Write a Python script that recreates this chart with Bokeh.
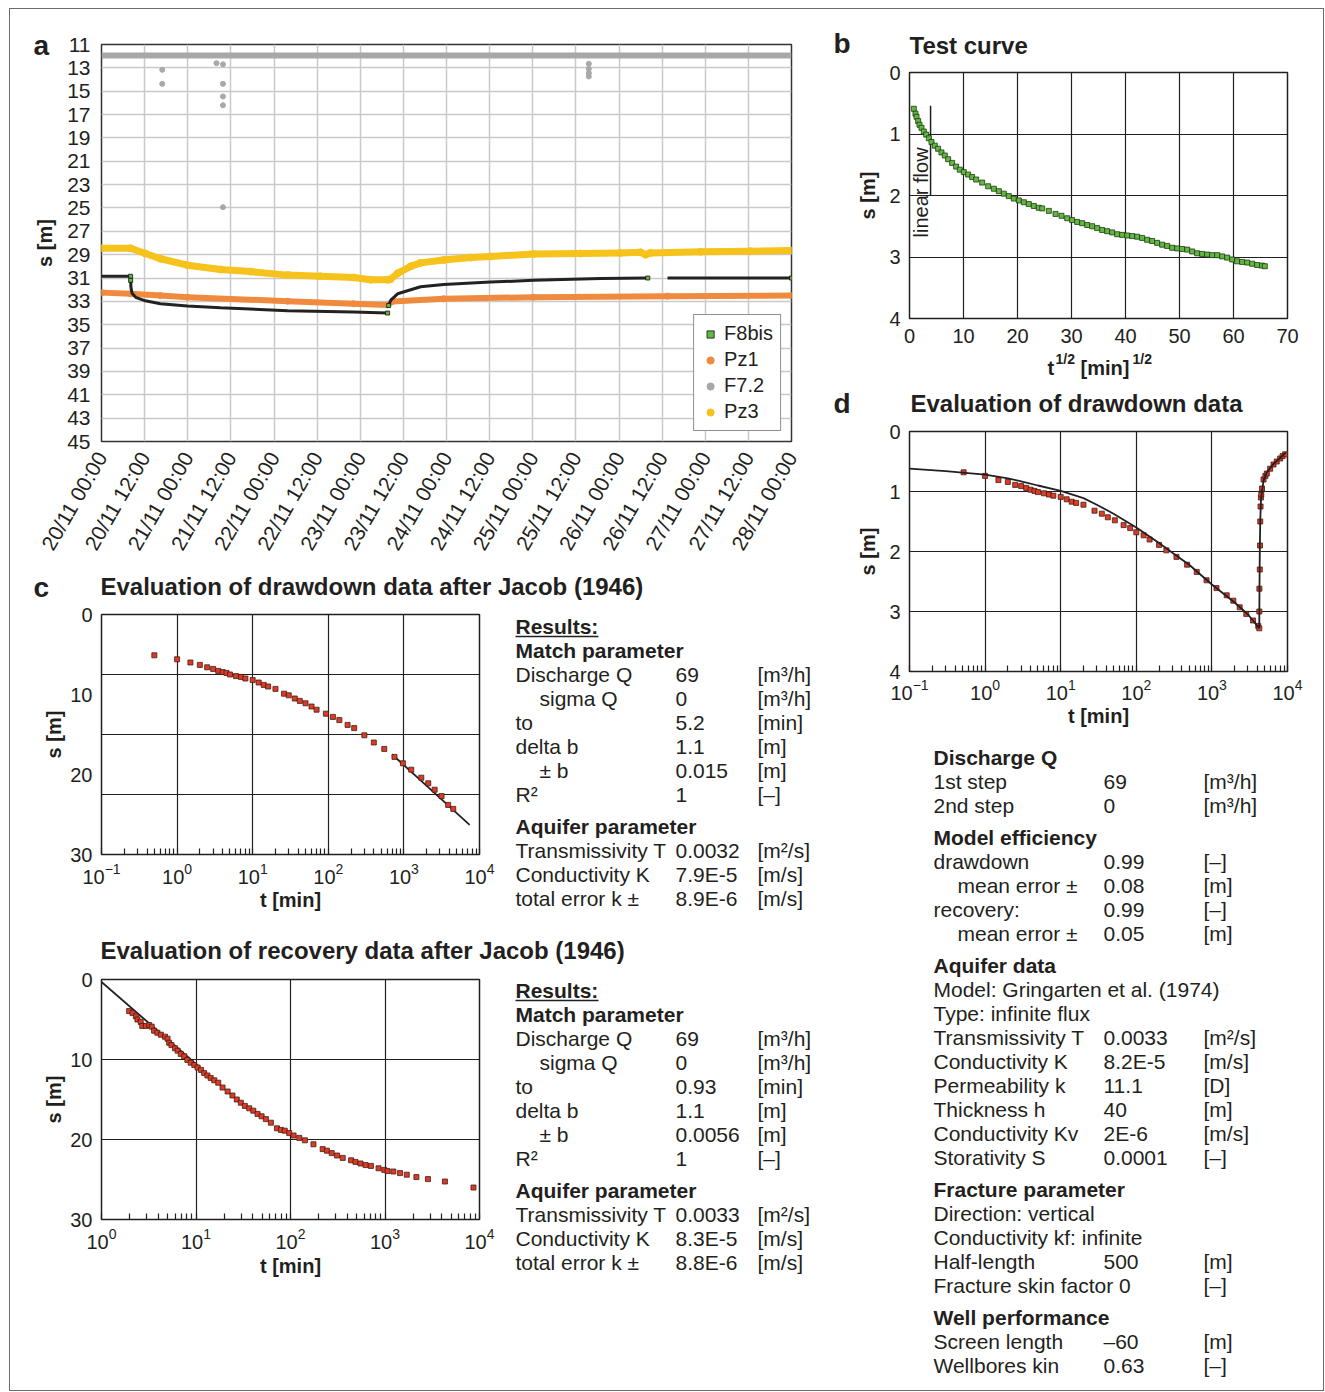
import math
from bokeh.plotting import figure
from bokeh.layouts import row, column
from bokeh.models import (Label, Legend, LegendItem, FixedTicker, Range1d, GridBox, Spacer,
                          ColumnDataSource)
from bokeh.embed import file_html
from bokeh.resources import INLINE
from bokeh.core.properties import value

FONT = "Liberation Sans"
INK = "#231f20"
NaN = float("nan")

# ======================= DATA =======================
# ---- panel a: time in hours since 20/11 00:00, s in m ----
time_tick_hours = [0, 12, 24, 36, 48, 60, 72, 84, 96, 108, 120, 132, 144, 156, 168, 180, 192]
time_tick_labels = ["20/11 00:00", "20/11 12:00", "21/11 00:00", "21/11 12:00", "22/11 00:00",
                    "22/11 12:00", "23/11 00:00", "23/11 12:00", "24/11 00:00", "24/11 12:00",
                    "25/11 00:00", "25/11 12:00", "26/11 00:00", "26/11 12:00", "27/11 00:00",
                    "27/11 12:00", "28/11 00:00"]
depth_ticks = [11, 13, 15, 17, 19, 21, 23, 25, 27, 29, 31, 33, 35, 37, 39, 41, 43, 45]

pz3_t = [0, 8.1, 12.2, 16.4, 23.9, 33.1, 41.5, 51.8, 60.9, 70.1, 74.9, 79.6, 80.4, 82.4, 86.0,
         88.8, 95.2, 102.7, 108.2, 120.2, 133.3, 144.4, 150.0, 151.4, 152.8, 166.7, 180.6, 192.0]
pz3_s = [28.45, 28.45, 28.9, 29.35, 29.9, 30.27, 30.45, 30.75, 30.85, 30.95, 31.15, 31.15, 31.1,
         30.6, 30.0, 29.7, 29.45, 29.25, 29.15, 28.95, 28.9, 28.85, 28.8, 29.0, 28.85, 28.75,
         28.7, 28.65]

pz1_t = [0, 8.1, 16.4, 23.9, 51.8, 70.1, 79.6, 81.0, 95.2, 120.2, 157.5, 192.0]
pz1_s = [32.25, 32.35, 32.5, 32.64, 32.98, 33.2, 33.3, 33.0, 32.78, 32.64, 32.55, 32.5]

f8bis_t = [0, 8.1, NaN,
           8.1, 8.2, 8.5, 9.5, 12.2, 16.4, 23.9, 33.1, 51.8, 70.1, 79.6, NaN,
           79.9, 80.5, 82.4, 88.8, 95.2, 108.2, 120.2, 138.9, 152.0, NaN,
           157.5, 192.0]
f8bis_s = [30.85, 30.85, NaN,
           31.2, 31.8, 32.3, 32.65, 32.95, 33.2, 33.4, 33.55, 33.8, 33.9, 34.0, NaN,
           33.35, 32.9, 32.35, 31.75, 31.55, 31.35, 31.2, 31.05, 31.0, NaN,
           31.0, 31.0]
f8bis_end_t = [8.1, 8.1, 79.6, 79.9, 152.0, 192.0]
f8bis_end_s = [30.85, 31.2, 34.0, 33.35, 31.0, 31.0]

f72_t = [0, 96, 192]
f72_s = [11.95, 11.95, 11.95]
f72_out_t = [16.9, 16.9, 32.0, 33.8, 33.8, 33.8, 33.8, 33.8, 135.6, 135.6, 135.6, 135.6]
f72_out_s = [13.17, 14.37, 12.6, 12.7, 14.37, 15.45, 16.2, 24.93, 12.65, 13.08, 13.45, 13.74]

# ---- panel b: test curve ----
b_x_ticks = [0, 10, 20, 30, 40, 50, 60, 70]
b_y_ticks = [0, 1, 2, 3, 4]
b_x = [0.80, 1.11, 1.30, 1.60, 1.85, 2.22, 2.65, 3.09, 3.58, 4.07, 4.69, 5.30, 5.92, 6.54, 7.16,
       7.90, 8.64, 9.32, 10.06, 10.86, 11.60, 12.34, 13.46, 14.57, 15.62, 16.54, 17.47, 18.39,
       19.32, 20.25, 21.17, 22.10, 23.02, 23.95, 24.57, 25.80, 27.04, 28.15, 29.20, 30.12,
       31.05, 31.97, 32.90, 33.83, 34.75, 35.68, 36.60, 37.53, 38.45, 39.38, 40.31, 41.23,
       42.16, 43.08, 44.01, 44.93, 45.86, 46.79, 47.71, 48.64, 49.56, 50.49, 51.42, 52.34,
       53.27, 54.19, 55.12, 56.04, 56.97, 57.90, 58.82, 59.75, 60.67, 61.60, 62.53, 63.45,
       64.38, 65.30, 65.80]
b_y = [0.59, 0.67, 0.72, 0.79, 0.85, 0.90, 0.96, 1.01, 1.07, 1.13, 1.19, 1.24, 1.30, 1.35, 1.41,
       1.47, 1.53, 1.58, 1.62, 1.66, 1.70, 1.74, 1.79, 1.85, 1.89, 1.93, 1.97, 2.01, 2.05, 2.08,
       2.11, 2.14, 2.17, 2.20, 2.21, 2.25, 2.30, 2.33, 2.37, 2.40, 2.43, 2.45, 2.48, 2.50, 2.53,
       2.56, 2.58, 2.60, 2.63, 2.64, 2.65, 2.66, 2.67, 2.69, 2.72, 2.74, 2.77, 2.80, 2.82, 2.85,
       2.86, 2.87, 2.88, 2.91, 2.94, 2.95, 2.96, 2.97, 2.97, 2.99, 3.01, 3.04, 3.07, 3.08, 3.09,
       3.11, 3.13, 3.14, 3.15]
linear_flow_x = [3.9, 3.9]
linear_flow_y = [0.54, 2.0]

# ---- panel c: Jacob drawdown ----
c_y_ticks = [0, 10, 20, 30]
c1_grid_y = [7.5, 15, 22.5]
c2_grid_y = [10, 20]
c1_t = [0.5, 1.0, 1.5, 2.0, 2.5, 3.0, 3.5, 4.0, 4.5, 5, 6, 7, 8, 10, 12, 14, 16, 20, 26, 30, 36,
        42, 50, 60, 70, 93, 115, 140, 180, 220, 300, 400, 550, 750, 970, 1250, 1700, 2100,
        2550, 3150, 3850, 4500]
c1_s = [5.1, 5.6, 6.0, 6.3, 6.6, 6.8, 7.05, 7.2, 7.3, 7.5, 7.7, 7.8, 8.0, 8.2, 8.5, 8.8, 9.0,
        9.3, 9.9, 10.1, 10.5, 10.8, 11.1, 11.5, 11.9, 12.4, 12.8, 13.2, 13.8, 14.2, 15.1, 16.0,
        16.8, 17.8, 18.6, 19.4, 20.4, 21.1, 21.9, 22.7, 23.8, 24.3]
c1_fit_t = [700, 7400]
c1_fit_s = [17.5, 26.3]

# ---- panel c: Jacob recovery ----
c2_t = [1.96, 2.13, 2.31, 2.4, 2.6, 2.7, 2.95, 3.2, 3.4, 3.6, 3.9, 4.25, 4.7, 5.0, 5.2, 5.5, 6.0,
        6.4, 6.9, 7.5, 8.1, 8.8, 9.6, 10.4, 11.3, 12.2, 13.2, 14.3, 15.6, 17.2, 19.1, 21.6, 24.3,
        27.0, 29.8, 32.9, 36.6, 40.4, 44.8, 49.5, 54.9, 62.0, 71.9, 79.2, 87.0, 96.9, 107.8, 124,
        142, 175, 219, 243, 273, 311, 357, 438, 487, 551, 623, 710, 855, 983, 1064, 1226, 1442,
        1700, 2149, 2848, 4305, 8635]
c2_s = [3.95, 4.2, 4.6, 5.0, 5.3, 5.8, 5.8, 5.7, 5.9, 6.4, 6.65, 6.9, 7.15, 7.4, 7.9, 8.2, 8.6,
        8.9, 9.3, 9.6, 10.05, 10.4, 10.7, 11.0, 11.3, 11.7, 12.0, 12.3, 12.6, 12.9, 13.5, 14.0,
        14.5, 15.0, 15.4, 15.8, 16.1, 16.4, 16.8, 17.1, 17.45, 17.9, 18.6, 18.8, 18.9, 19.2,
        19.5, 19.8, 20.1, 20.6, 21.2, 21.4, 21.7, 22.0, 22.3, 22.6, 22.8, 23.0, 23.2, 23.3, 23.6,
        23.8, 23.95, 24.0, 24.2, 24.4, 24.7, 24.95, 25.25, 26.0]
c2_fit_t = [1.0, 11.0]
c2_fit_s = [0.3, 11.0]

# ---- panel d: drawdown + recovery ----
d_y_ticks = [0, 1, 2, 3, 4]
d_draw_t = [0.52, 1.0, 1.5, 2.0, 2.5, 3.0, 3.5, 4.0, 4.5, 5.0, 6.0, 7.0, 8.0, 10, 12, 14, 16, 20,
            28, 35, 42, 52, 68, 83, 100, 125, 150, 200, 250, 340, 470, 630, 850, 1150, 1570,
            1920, 2330, 2850, 3500, 4100, 4230]
d_draw_s = [0.68, 0.74, 0.81, 0.84, 0.89, 0.91, 0.94, 0.97, 0.99, 1.01, 1.03, 1.05, 1.07, 1.09,
            1.13, 1.17, 1.19, 1.22, 1.32, 1.37, 1.43, 1.48, 1.56, 1.61, 1.68, 1.73, 1.80, 1.89,
            1.98, 2.09, 2.22, 2.34, 2.48, 2.61, 2.73, 2.82, 2.93, 3.04, 3.15, 3.24, 3.28]
d_rec_t = [4240, 4250, 4300, 4330, 4360, 4400, 4450, 4500, 4600, 4820, 5100, 5330, 5900, 6530,
           7200, 8000, 8600, 9300]
d_rec_s = [3.0, 2.62, 2.3, 1.9, 1.5, 1.25, 1.1, 1.05, 0.95, 0.8, 0.74, 0.7, 0.62, 0.55, 0.5,
           0.45, 0.41, 0.38]
d_model_t = [0.1, 0.3, 1, 2, 3, 5, 10, 20, 30, 50, 100, 200, 300, 500, 1000, 2000, 3000, 4230,
             4260, 4300, 4360, 4450, 4600, 4820, 5330, 6530, 8000, 9500]
d_model_s = [0.62, 0.66, 0.72, 0.78, 0.83, 0.90, 0.99, 1.11, 1.22, 1.37, 1.60, 1.86, 2.02, 2.22,
             2.55, 2.85, 3.05, 3.28, 2.62, 2.0, 1.5, 1.15, 1.0, 0.82, 0.68, 0.54, 0.44, 0.35]

# ---- result tables ----
match_labels = ["Discharge Q", "sigma Q", "to", "delta b", "± b", "R²"]
match_indent = [0, 1, 0, 0, 1, 0]
match_units = ["[m³/h]", "[m³/h]", "[min]", "[m]", "[m]", "[–]"]
c1_match_values = ["69", "0", "5.2", "1.1", "0.015", "1"]
c2_match_values = ["69", "0", "0.93", "1.1", "0.0056", "1"]
aq_labels = ["Transmissivity T", "Conductivity K", "total error k ±"]
aq_units = ["[m²/s]", "[m/s]", "[m/s]"]
c1_aq_values = ["0.0032", "7.9E-5", "8.9E-6"]
c2_aq_values = ["0.0033", "8.3E-5", "8.8E-6"]

d_sections = [
    ("Discharge Q",
     ["1st step", "2nd step"], ["69", "0"], ["[m³/h]", "[m³/h]"], [0, 0]),
    ("Model efficiency",
     ["drawdown", "mean error ±", "recovery:", "mean error ±"],
     ["0.99", "0.08", "0.99", "0.05"], ["[–]", "[m]", "[–]", "[m]"], [0, 1, 0, 1]),
    ("Aquifer data",
     ["Model: Gringarten et al. (1974)", "Type: infinite flux", "Transmissivity T",
      "Conductivity K", "Permeability k", "Thickness h", "Conductivity Kv", "Storativity S"],
     ["", "", "0.0033", "8.2E-5", "11.1", "40", "2E-6", "0.0001"],
     ["", "", "[m²/s]", "[m/s]", "[D]", "[m]", "[m/s]", "[–]"], [0] * 8),
    ("Fracture parameter",
     ["Direction: vertical", "Conductivity kf: infinite", "Half-length", "Fracture skin factor 0"],
     ["", "", "500", ""], ["", "", "[m]", "[–]"], [0, 0, 0, 0]),
    ("Well performance",
     ["Screen length", "Wellbores kin"], ["–60", "0.63"], ["[m]", "[–]"], [0, 0]),
]

legend_names = ["F8bis", "Pz1", "F7.2", "Pz3"]

# ======================= HELPERS =======================
OX, OY = 10, 9          # page position of the content origin
W, H = 1313, 1381       # content size


def base_fig(fw, fh, ml, mr, mt, mb, xr, yr, xtype="linear"):
    p = figure(frame_width=fw, frame_height=fh, min_border_left=ml, min_border_right=mr,
               min_border_top=mt, min_border_bottom=mb, x_range=xr, y_range=yr,
               x_axis_type=xtype, output_backend="svg", toolbar_location=None)
    p.background_fill_color = "white"
    p.border_fill_color = "white"
    p.outline_line_color = INK
    p.outline_line_width = 1.5
    p.outline_line_alpha = 1.0
    for ax in p.axis:
        ax.axis_line_color = None
        ax.major_tick_line_color = None
        ax.minor_tick_line_color = None
        ax.major_tick_in = 0
        ax.major_tick_out = 0
        ax.minor_tick_in = 0
        ax.minor_tick_out = 0
        ax.major_label_text_font = FONT
        ax.major_label_text_font_size = "20px"
        ax.major_label_text_color = INK
        ax.axis_label_text_font = FONT
        ax.axis_label_text_font_size = "20px"
        ax.axis_label_text_font_style = "bold"
        ax.axis_label_text_color = INK
    p.grid.grid_line_color = INK
    p.grid.grid_line_width = 1.2
    return p


def log_axis_style(p):
    p.xaxis.minor_tick_line_color = INK
    p.xaxis.minor_tick_line_width = 1.2
    p.xaxis.minor_tick_in = 6
    p.xaxis.minor_tick_out = 0


RED_FILL, RED_LINE = "#e23a22", "#3b1f1a"
GRN_FILL, GRN_LINE = "#62b843", "#1d3a12"

# ======================= PANEL A =======================
pa = base_fig(690, 397, 91, 39, 35, 129, Range1d(0, 192), Range1d(45, 11))
pa.outline_line_color = "#333333"
pa.grid.grid_line_color = "#c9c9c9"
pa.grid.grid_line_width = 1.5
pa.xaxis.ticker = FixedTicker(ticks=time_tick_hours)
pa.xaxis.major_label_overrides = dict(zip(time_tick_hours, time_tick_labels))
pa.xaxis.major_label_orientation = math.radians(60)
pa.xaxis.major_label_text_font_size = "21px"
pa.xaxis.major_label_standoff = 12
pa.yaxis.ticker = FixedTicker(ticks=depth_ticks)
pa.yaxis.major_label_text_font_size = "21px"
pa.yaxis.major_label_standoff = 11
pa.yaxis.axis_label = "s [m]"
pa.yaxis.axis_label_standoff = 8

YEL, ORA, GRY = "#f6c21c", "#f08a3f", "#a8a8a8"
pa.line(pz3_t, pz3_s, line_color=YEL, line_width=7, line_cap="round", line_join="round")
r_pz3 = pa.scatter(pz3_t, pz3_s, marker="circle", size=7, fill_color=YEL, line_color=YEL)
pa.line(pz1_t, pz1_s, line_color=ORA, line_width=6, line_cap="round", line_join="round")
r_pz1 = pa.scatter(pz1_t, pz1_s, marker="circle", size=6, fill_color=ORA, line_color=ORA)
pa.line(f8bis_t, f8bis_s, line_color="#222222", line_width=3)
r_f8 = pa.scatter(f8bis_end_t, f8bis_end_s, marker="square", size=4, fill_color=GRN_FILL,
                  line_color="#111111", line_width=0.8)
pa.line(f72_t, f72_s, line_color=GRY, line_width=6)
r_f72 = pa.scatter(f72_out_t, f72_out_s, marker="circle", size=5, fill_color=GRY, line_color=GRY)

legend = Legend(items=[LegendItem(label=legend_names[0], renderers=[r_f8]),
                       LegendItem(label=legend_names[1], renderers=[r_pz1]),
                       LegendItem(label=legend_names[2], renderers=[r_f72]),
                       LegendItem(label=legend_names[3], renderers=[r_pz3])],
                location="bottom_right")
legend.margin = 10
legend.padding = 7
legend.spacing = 3
legend.label_height = 22
legend.glyph_height = 22
legend.glyph_width = 18
legend.label_standoff = 5
legend.label_text_font = FONT
legend.label_text_font_size = "20px"
legend.label_text_color = INK
legend.border_line_color = INK
legend.border_line_width = 1.2
legend.background_fill_color = "white"
legend.background_fill_alpha = 1.0
pa.add_layout(legend)

# ======================= PANEL C (drawdown) =======================
pc1 = base_fig(378, 240, 91, 351, 44, 81, Range1d(0.1, 1e4), Range1d(30, 0), xtype="log")
log_axis_style(pc1)
pc1.yaxis.ticker = FixedTicker(ticks=c_y_ticks)
pc1.ygrid.ticker = FixedTicker(ticks=c1_grid_y)
pc1.yaxis.major_label_standoff = 9
pc1.xaxis.major_label_standoff = 8
pc1.yaxis.axis_label = "s [m]"
pc1.yaxis.axis_label_standoff = 2
pc1.xaxis.axis_label = "t [min]"
pc1.xaxis.axis_label_standoff = 2
pc1.line(c1_fit_t, c1_fit_s, line_color=INK, line_width=1.8)
pc1.scatter(c1_t, c1_s, marker="square", size=5, fill_color=RED_FILL, line_color=RED_LINE,
            line_width=0.8)

# ======================= PANEL C (recovery) =======================
pc2 = base_fig(378, 240, 91, 351, 44, 171, Range1d(1, 1e4), Range1d(30, 0), xtype="log")
log_axis_style(pc2)
pc2.yaxis.ticker = FixedTicker(ticks=c_y_ticks)
pc2.ygrid.ticker = FixedTicker(ticks=c2_grid_y)
pc2.yaxis.major_label_standoff = 9
pc2.xaxis.major_label_standoff = 8
pc2.yaxis.axis_label = "s [m]"
pc2.yaxis.axis_label_standoff = 2
pc2.xaxis.axis_label = "t [min]"
pc2.xaxis.axis_label_standoff = 3
pc2.line(c2_fit_t, c2_fit_s, line_color=INK, line_width=1.8)
pc2.scatter(c2_t, c2_s, marker="square", size=5, fill_color=RED_FILL, line_color=RED_LINE,
            line_width=0.8)

# ======================= PANEL B =======================
pb = base_fig(378, 246, 79, 36, 63, 67, Range1d(0, 70), Range1d(4, 0))
pb.xaxis.ticker = FixedTicker(ticks=b_x_ticks)
pb.yaxis.ticker = FixedTicker(ticks=b_y_ticks)
pb.xaxis.major_label_standoff = 10
pb.yaxis.major_label_standoff = 9
pb.yaxis.axis_label = "s [m]"
pb.yaxis.axis_label_standoff = 7
pb.line(linear_flow_x, linear_flow_y, line_color=INK, line_width=1.5)
pb.scatter(b_x, b_y, marker="square", size=5, fill_color=GRN_FILL, line_color=GRN_LINE,
           line_width=0.8)
pb.add_layout(Label(x=2.04, y=1.95, text="linear flow", angle=math.pi / 2, text_font=FONT,
                    text_font_size="20px", text_color=INK, text_align="center",
                    text_baseline="middle"))

# ======================= PANEL D =======================
pd_ = base_fig(378, 240, 79, 36, 46, 719, Range1d(0.1, 1e4), Range1d(4, 0), xtype="log")
log_axis_style(pd_)
pd_.yaxis.ticker = FixedTicker(ticks=d_y_ticks)
pd_.yaxis.major_label_standoff = 9
pd_.xaxis.major_label_standoff = 7
pd_.yaxis.axis_label = "s [m]"
pd_.yaxis.axis_label_standoff = 7
pd_.xaxis.axis_label = "t [min]"
pd_.xaxis.axis_label_standoff = 2
pd_.scatter(d_draw_t, d_draw_s, marker="square", size=5, fill_color=RED_FILL,
            line_color=RED_LINE, line_width=0.8)
pd_.scatter(d_rec_t, d_rec_s, marker="square", size=5, fill_color=RED_FILL,
            line_color=RED_LINE, line_width=0.8)
pd_.line(d_model_t, d_model_s, line_color=INK, line_width=1.8)

# ======================= TEXT OVERLAY (page pixel coordinates) =======================
ov = figure(width=W, height=H, x_range=Range1d(0, W), y_range=Range1d(H, 0),
            min_border=0, min_border_left=0, min_border_right=0, min_border_top=0,
            min_border_bottom=0, x_axis_location=None, y_axis_location=None,
            output_backend="svg", toolbar_location=None)
ov.background_fill_color = None
ov.border_fill_color = None
ov.outline_line_color = None
for g in ov.grid:
    g.visible = False

texts = {}   # (size, bold) -> lists


def put(px, py, text, size=21, bold=False):
    key = (size, bold)
    d = texts.setdefault(key, {"x": [], "y": [], "text": []})
    d["x"].append(px - OX)
    d["y"].append(py - OY)
    d["text"].append(text)


underlines = {"x0": [], "x1": [], "y": []}


def results_table(top, m_vals, a_vals):
    put(515, top, "Results:", bold=True)
    underlines["x0"].append(515 - OX)
    underlines["x1"].append(598 - OX)
    underlines["y"].append(top + 10 - OY)
    put(515, top + 24, "Match parameter", bold=True)
    y = top + 48
    for lab, ind, val, unit in zip(match_labels, match_indent, m_vals, match_units):
        put(515 + 24 * ind, y, lab)
        put(675, y, val)
        put(757, y, unit)
        y += 24
    y += 8
    put(515, y, "Aquifer parameter", bold=True)
    y += 24
    for lab, val, unit in zip(aq_labels, a_vals, aq_units):
        put(515, y, lab)
        put(675, y, val)
        put(757, y, unit)
        y += 24


# panel letters and titles
put(33, 45, "a", size=28, bold=True)
put(833, 43, "b", size=28, bold=True)
put(33, 587, "c", size=28, bold=True)
put(833, 403, "d", size=28, bold=True)
put(909, 45, "Test curve", size=24, bold=True)
put(100, 586, "Evaluation of drawdown data after Jacob (1946)", size=24, bold=True)
put(100, 950, "Evaluation of recovery data after Jacob (1946)", size=24, bold=True)
put(910, 403, "Evaluation of drawdown data", size=24, bold=True)
# panel b x-axis label with exponents
put(1047, 367, "t", size=20, bold=True)
put(1055, 358, "1/2", size=14, bold=True)
put(1080, 367, "[min]", size=20, bold=True)
put(1132, 358, "1/2", size=14, bold=True)

results_table(626, c1_match_values, c1_aq_values)
results_table(990, c2_match_values, c2_aq_values)

y = 757
for head, labs, vals, units, inds in d_sections:
    put(933, y, head, bold=True)
    y += 24
    for lab, val, unit, ind in zip(labs, vals, units, inds):
        put(933 + 24 * ind, y, lab)
        if val:
            put(1103, y, val)
        if unit:
            put(1203, y, unit)
        y += 24
    y += 8

for (size, bold), d in texts.items():
    ov.text(x="x", y="y", text="text", source=ColumnDataSource(d),
            text_font=value(FONT), text_font_size=value(f"{size}px"),
            text_font_style=value("bold" if bold else "normal"),
            text_color=INK, text_align=value("left"), text_baseline=value("middle"))

ov.segment(x0=underlines["x0"], y0=underlines["y"], x1=underlines["x1"], y1=underlines["y"],
           line_color=INK, line_width=1.6)

# ======================= LAYOUT =======================
left = column(pa, pc1, pc2, spacing=0)
right = column(pb, pd_, spacing=0)
main = row(left, right, spacing=0)
grid = GridBox(children=[(main, 0, 0), (ov, 0, 0)],
               styles={"border": "1px solid #6b6b6b"})
page = column(Spacer(height=8), row(Spacer(width=9), grid, spacing=0), spacing=0)

open("out.html", "w").write(file_html(page, INLINE, title="Pumping test evaluation"))
